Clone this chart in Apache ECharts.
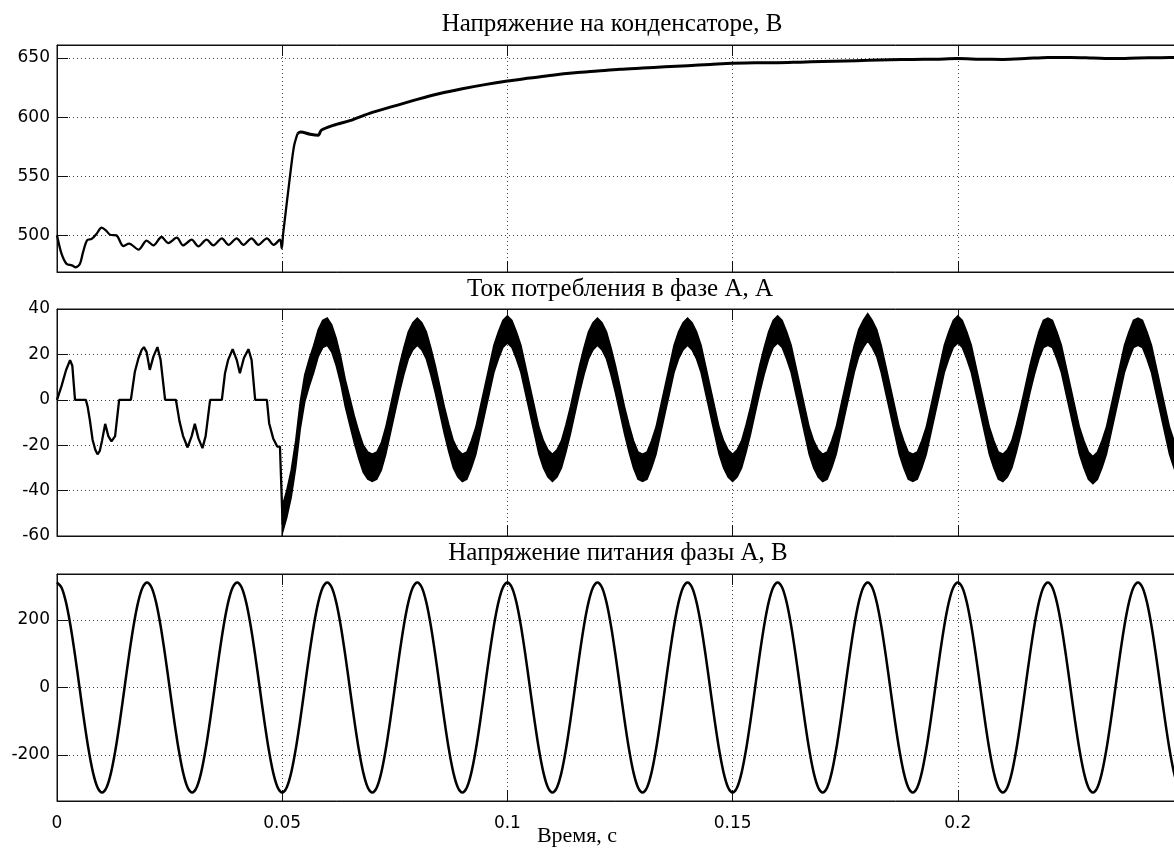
<!DOCTYPE html>
<html><head><meta charset="utf-8">
<script src="https://cdn.jsdelivr.net/npm/echarts@6/dist/echarts.min.js"></script>
<style>html,body{margin:0;padding:0;background:#fff}#c{width:1174px;height:848px}</style>
</head><body><div id="c"></div>
<script>
// ---------- Texts ----------
const panelTitles = ['Напряжение на конденсаторе, В', 'Ток потребления в фазе А, А', 'Напряжение питания фазы А, В'];
const xAxisName = 'Время, с';

// ---------- Panel 1: capacitor voltage [t (s), V] ----------
const capEarly = [[0,500],[0.001,484.5],[0.0021,476],[0.0033,474.6],[0.0042,473],[0.0051,476],[0.0058,486],[0.0067,496],[0.0077,497],[0.0088,501.4],[0.0099,506.5],[0.0109,504],[0.0118,500.5],[0.0132,500],[0.0147,491],[0.0160,493],[0.0181,488],[0.0199,495.5],[0.0214,491.5],[0.0232,498.6],[0.0247,493.5],[0.0266,498],[0.0280,491.5],[0.0299,496.3],[0.0314,490.7],[0.0332,496.3],[0.0347,491.5],[0.0366,497.5],[0.0381,492],[0.0399,497.5],[0.0414,492],[0.0432,497.5],[0.0447,492],[0.0466,497.5],[0.0481,492],[0.0495,496.3],[0.0499,489],[0.0502,501],[0.0517,549],[0.0526,575],[0.0534,586]];
const capLate = [[0.0534,586],[0.0541,587.4],[0.0562,585.5],[0.0580,584.6],[0.0587,589],[0.0613,593],[0.065,597],[0.070,604],[0.075,609.5],[0.080,615],[0.085,620],[0.090,624],[0.095,627.5],[0.100,630.5],[0.105,633],[0.110,635.5],[0.115,637.5],[0.120,639],[0.125,640.5],[0.130,641.5],[0.135,642.5],[0.140,643.5],[0.145,644.5],[0.150,645.5],[0.155,646],[0.160,646],[0.165,646.5],[0.170,647],[0.175,647.5],[0.180,648],[0.185,648.5],[0.190,648.8],[0.195,649],[0.200,649.5],[0.205,649],[0.210,648.8],[0.215,649.5],[0.220,650.5],[0.225,650.5],[0.230,650],[0.235,649.5],[0.240,650],[0.245,650.3],[0.250,650.5]];

// ---------- Panel 2: phase A current ----------
const currentEarly = [[0,0],[0.0010,6],[0.0020,13],[0.0029,17.5],[0.0034,15],[0.0040,0],[0.0064,0],[0.0068,-3],[0.0073,-9],[0.0079,-17.6],[0.0085,-22],[0.0090,-24],[0.0095,-22.5],[0.0100,-18],[0.0107,-10.6],[0.0114,-16],[0.0121,-18.3],[0.0129,-16],[0.0138,0],[0.0164,0],[0.0173,12.5],[0.0181,18.4],[0.0188,22],[0.0193,23.2],[0.0199,21],[0.0206,13.2],[0.0214,19],[0.0223,23.2],[0.0230,17.6],[0.0240,0],[0.0264,0],[0.0272,-9.5],[0.0280,-16],[0.0290,-21],[0.0299,-16],[0.0306,-10.6],[0.0314,-17],[0.0323,-21.3],[0.0330,-16],[0.0340,0],[0.0366,0],[0.0373,11.7],[0.0380,17.6],[0.0390,22.3],[0.0399,17.6],[0.0406,11.7],[0.0415,18.4],[0.0425,22.3],[0.0432,17.6],[0.0440,0],[0.0466,0],[0.0471,-10.3],[0.0480,-17],[0.0489,-20.6],[0.0495,-20.6],[0.0499,-20],[0.0501,-55]];
const currentLateStart = 0.050;
const currentLateStep = 0.001;
const currentLateCenter = [
-53,-46,-37,-24,-7,5,12,18,25,29,
30,27,21,13,3,-5,-13,-20,-26,-29,
-30,-29,-25,-18,-9,0,9,17,24,28,
30,28,24,17,9,0,-9,-17,-24,-28,
-30,-29,-24,-18,-9,0,9,18,24,29,
31,29,24,18,9,0,-9,-18,-24,-28,
-30,-28,-24,-17,-9,0,9,17,24,28,
30,28,24,17,9,0,-9,-17,-24,-29,
-30,-29,-24,-18,-9,0,9,18,24,28,
30,28,24,18,9,0,-9,-18,-24,-28,
-30,-28,-24,-17,-9,0,9,17,24,29,
31,29,24,18,9,0,-9,-18,-24,-28,
-30,-29,-24,-18,-9,0,9,18,25,29,
32,29,25,18,9,0,-9,-18,-24,-29,
-30,-29,-24,-18,-9,0,9,18,24,29,
31,29,24,18,9,0,-9,-18,-24,-29,
-30,-28,-24,-17,-9,0,9,17,24,29,
30,29,24,18,9,0,-9,-18,-24,-29,
-31,-29,-24,-18,-9,0,9,18,24,29,
30,29,24,18,9,0,-9,-18,-24,-29,
-30];
const currentRipple = 6; // half-width of the switching-ripple band, A

// ---------- Panel 3: supply voltage ----------
const supplyStep = 0.001;
const supplyV = [
311,296,252,183,96,0,-96,-183,-252,-296,-311,-296,-252,-183,-96,0,96,183,252,296,
311,296,252,183,96,0,-96,-183,-252,-296,-311,-296,-252,-183,-96,0,96,183,252,296,
311,296,252,183,96,0,-96,-183,-252,-296,-311,-296,-252,-183,-96,0,96,183,252,296,
311,296,252,183,96,0,-96,-183,-252,-296,-311,-296,-252,-183,-96,0,96,183,252,296,
311,296,252,183,96,0,-96,-183,-252,-296,-311,-296,-252,-183,-96,0,96,183,252,296,
311,296,252,183,96,0,-96,-183,-252,-296,-311,-296,-252,-183,-96,0,96,183,252,296,
311,296,252,183,96,0,-96,-183,-252,-296,-311,-296,-252,-183,-96,0,96,183,252,296,
311,296,252,183,96,0,-96,-183,-252,-296,-311,-296,-252,-183,-96,0,96,183,252,296,
311,296,252,183,96,0,-96,-183,-252,-296,-311,-296,-252,-183,-96,0,96,183,252,296,
311,296,252,183,96,0,-96,-183,-252,-296,-311,-296,-252,-183,-96,0,96,183,252,296,
311,296,252,183,96,0,-96,-183,-252,-296,-311,-296,-252,-183,-96,0,96,183,252,296,
311,296,252,183,96,0,-96,-183,-252,-296,-311,-296,-252,-183,-96,0,96,183,252,296,
311,296,252,183,96,0,-96,-183,-252,-296,-311];

// ---------- Axis ranges ----------
const xRange = [0, 0.25], xTickStep = 0.05;
const yRanges = [[469, 661, 50], [-60, 40, 20], [-336, 336, 200]];

// ---------- Build ----------
const supplyData = supplyV.map((v, i) => [+(i * supplyStep).toFixed(4), v]);
const curLateData = currentLateCenter.map((v, i) => [+(currentLateStart + i * currentLateStep).toFixed(4), v]);

const gridTops = [45, 309, 574];
const gridH = 227;
const grid = gridTops.map(t => ({left: 57, right: -9, top: t, height: gridH, show: true,
  borderColor: '#111', borderWidth: 1, backgroundColor: 'transparent', containLabel: false,
  outerBoundsMode: 'none'}));

const labelFont = {color: '#000', fontFamily: 'DejaVu Sans', fontSize: 17};
const dotted = {color: '#444', type: [1, 3], width: 1};
const xAxis = [], yAxis = [];
for (let g = 0; g < 3; g++) {
  xAxis.push({type: 'value', gridIndex: g, position: 'bottom', min: xRange[0], max: xRange[1], interval: xTickStep,
    axisLine: {show: true, onZero: false, lineStyle: {color: '#111'}},
    axisTick: {show: true, inside: true, length: 11, lineStyle: {color: '#111'}},
    axisLabel: Object.assign({show: g === 2, margin: 14, showMaxLabel: false}, labelFont),
    splitLine: {show: true, lineStyle: dotted}});
  xAxis.push({type: 'value', gridIndex: g, position: 'top', min: xRange[0], max: xRange[1], interval: xTickStep,
    axisLine: {show: true, onZero: false, lineStyle: {color: '#111'}},
    axisTick: {show: true, inside: true, length: 11, lineStyle: {color: '#111'}},
    axisLabel: {show: false}, splitLine: {show: false}});
  const r = yRanges[g];
  yAxis.push({type: 'value', gridIndex: g, min: r[0], max: r[1], minInterval: r[2], maxInterval: r[2], splitNumber: 4,
    axisLine: {show: true, onZero: false, lineStyle: {color: '#111'}},
    axisTick: {show: true, inside: true, length: 11, lineStyle: {color: '#111'}},
    axisLabel: Object.assign({margin: 7, showMinLabel: g === 1, showMaxLabel: g === 1}, labelFont),
    splitLine: {show: true, lineStyle: dotted}});
}

const lineBase = {type: 'line', showSymbol: false, symbol: 'none', animation: false, clip: true};
const series = [
  Object.assign({}, lineBase, {name: 'Uc early', xAxisIndex: 0, yAxisIndex: 0, data: capEarly, smooth: 0.3,
    lineStyle: {color: '#000', width: 2.3}}),
  Object.assign({}, lineBase, {name: 'Uc', xAxisIndex: 0, yAxisIndex: 0, data: capLate, smooth: 0.3,
    lineStyle: {color: '#000', width: 3}}),
  Object.assign({}, lineBase, {name: 'Ia early', xAxisIndex: 2, yAxisIndex: 1, data: currentEarly,
    lineStyle: {color: '#000', width: 2.3}}),
  {type: 'custom', name: 'Ia ripple band', xAxisIndex: 2, yAxisIndex: 1, clip: true, animation: false,
    data: [[0.15, 0]],
    renderItem: function (params, api) {
      const up = [], lo = [];
      curLateData.forEach(function (p) {
        up.push(api.coord([p[0], p[1] + currentRipple]));
        lo.push(api.coord([p[0], p[1] - currentRipple]));
      });
      return {type: 'polygon', shape: {points: up.concat(lo.reverse())},
        style: {fill: '#000', stroke: '#000', lineWidth: 1.5}};
    }},
  Object.assign({}, lineBase, {name: 'Ia', xAxisIndex: 2, yAxisIndex: 1, data: curLateData,
    lineStyle: {color: '#000', width: 1}}),
  Object.assign({}, lineBase, {name: 'Ua', xAxisIndex: 4, yAxisIndex: 2, data: supplyData, smooth: 0.3,
    lineStyle: {color: '#000', width: 2.5}})
];

const titleFont = {fontFamily: 'Liberation Serif', fontSize: 25, fill: '#000'};
const graphic = [
  {type: 'text', x: 612, y: 24, style: Object.assign({text: panelTitles[0], align: 'center', verticalAlign: 'middle'}, titleFont)},
  {type: 'text', x: 620, y: 289, style: Object.assign({text: panelTitles[1], align: 'center', verticalAlign: 'middle'}, titleFont)},
  {type: 'text', x: 618, y: 553, style: Object.assign({text: panelTitles[2], align: 'center', verticalAlign: 'middle'}, titleFont)},
  {type: 'text', x: 577, y: 836, style: Object.assign({text: xAxisName, align: 'center', verticalAlign: 'middle'}, titleFont, {fontSize: 22})}
];

const chart = echarts.init(document.getElementById('c'), null, {renderer: 'canvas'});
chart.setOption({animation: false, backgroundColor: '#fff', grid, xAxis, yAxis, series, graphic});
</script></body></html>
